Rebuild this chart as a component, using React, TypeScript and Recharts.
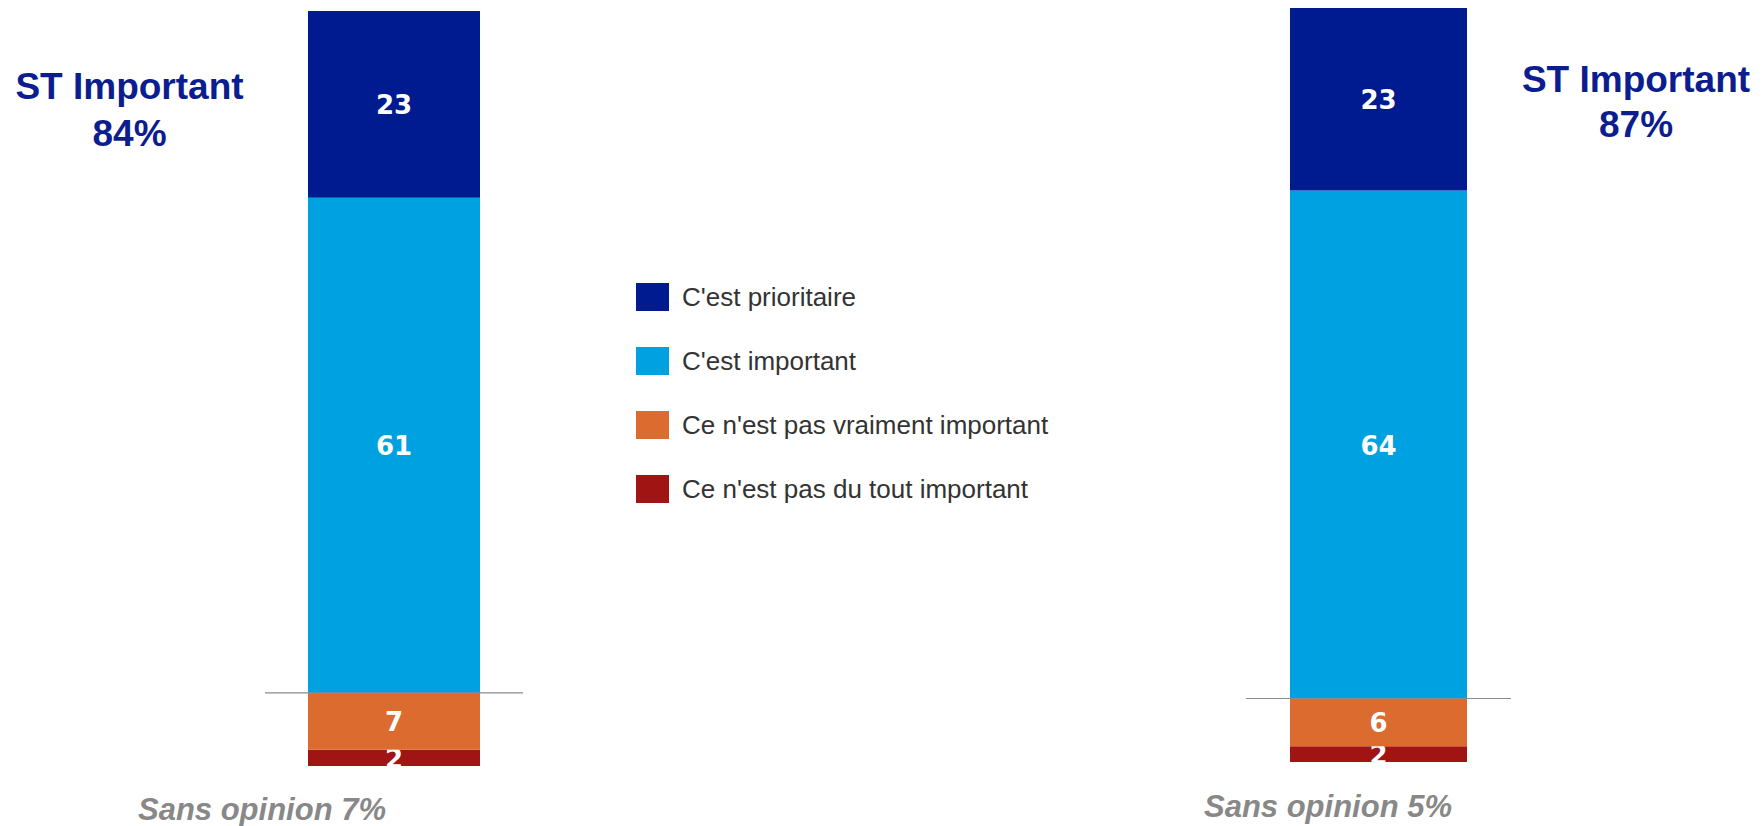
import { BarChart, Bar, XAxis, YAxis, Legend, LabelList, ReferenceLine } from "recharts";

// stacked from the bottom up
const seriesKeys = ["pasDuTout", "pasVraiment", "important", "prioritaire"];
const seriesNames = [
  "Ce n'est pas du tout important",
  "Ce n'est pas vraiment important",
  "C'est important",
  "C'est prioritaire",
];
const seriesColors = ["#A01414", "#DC6B2F", "#00A1E0", "#001A8F"];

const leftValues = [2, 7, 61, 23];
const rightValues = [2, 6, 64, 23];

const stTotals = [84, 87];
const sansOpinion = [7, 5];

const W = 1762;
const H = 826;
const FONT = "'Liberation Sans', Arial, sans-serif";

function toRow(name: string, values: number[]) {
  const row: Record<string, any> = { name };
  seriesKeys.forEach((k, i) => (row[k] = values[i]));
  return row;
}

function makeLabel(prefix: string) {
  return (props: any) => {
    const { x, y, width, height, value, index } = props;
    const id = `clip-${prefix}-${index}-${Math.round(y)}`;
    return (
      <g>
        <clipPath id={id}>
          <rect x={x} y={y} width={width} height={height} />
        </clipPath>
        <text
          x={x + width / 2}
          y={y + height / 2 + 10}
          textAnchor="middle"
          fill="#fff"
          fontFamily="'DejaVu Sans', Verdana, sans-serif"
          fontWeight="bold"
          fontSize={26}
          clipPath={`url(#${id})`}
        >
          {value}
        </text>
      </g>
    );
  };
}

function LegendBox() {
  // top item first, so walk the series backwards
  const order = [3, 2, 1, 0];
  return (
    <div style={{ fontFamily: FONT }}>
      {order.map((i, n) => (
        <div
          key={seriesKeys[i]}
          style={{
            display: "flex",
            alignItems: "center",
            height: 28,
            marginTop: n === 0 ? 0 : 36,
          }}
        >
          <div style={{ width: 33, height: 28, background: seriesColors[i], flexShrink: 0 }} />
          <span
            style={{
              marginLeft: 13,
              fontSize: 26,
              lineHeight: "28px",
              color: "#333",
              whiteSpace: "nowrap",
            }}
          >
            {seriesNames[i]}
          </span>
        </div>
      ))}
    </div>
  );
}

function StackChart({
  id,
  values,
  margin,
  barSize,
  withLegend,
}: {
  id: string;
  values: number[];
  margin: { top: number; right: number; bottom: number; left: number };
  barSize: number;
  withLegend?: boolean;
}) {
  const data = [toRow(id, values)];
  const total = values.reduce((a, b) => a + b, 0);
  const negatives = values[0] + values[1];
  const Label = makeLabel(id);
  return (
    <BarChart width={W} height={H} data={data} margin={margin} barSize={barSize}>
      <XAxis dataKey="name" type="category" hide />
      <YAxis type="number" domain={[0, total]} hide />
      {seriesKeys.map((k, i) => (
        <Bar
          key={k}
          dataKey={k}
          name={seriesNames[i]}
          stackId="a"
          fill={seriesColors[i]}
          isAnimationActive={false}
        >
          <LabelList dataKey={k} content={Label} />
        </Bar>
      ))}
      <ReferenceLine y={negatives} stroke="#8c8c8c" strokeWidth={1.2} />
      {withLegend && (
        <Legend
          layout="vertical"
          align="center"
          verticalAlign="middle"
          content={() => <LegendBox />}
          wrapperStyle={{ left: 636, top: 283, width: 520, height: 220 }}
        />
      )}
    </BarChart>
  );
}

const stStyle = {
  position: "absolute" as const,
  width: 300,
  textAlign: "center" as const,
  fontFamily: FONT,
  fontWeight: "bold" as const,
  fontSize: 37,
  color: "#0B1D8F",
};

const soStyle = {
  position: "absolute" as const,
  width: 340,
  textAlign: "center" as const,
  fontFamily: FONT,
  fontWeight: "bold" as const,
  fontStyle: "italic" as const,
  fontSize: 31,
  lineHeight: "31px",
  color: "#888",
  whiteSpace: "nowrap" as const,
};

export default function App() {
  return (
    <div style={{ position: "absolute", left: 0, top: 0, width: W, height: H, background: "#fff" }}>
      <div style={{ position: "absolute", left: 0, top: 0 }}>
        <StackChart
          id="left"
          values={leftValues}
          margin={{ top: 11, right: W - 523, bottom: H - 766, left: 265 }}
          barSize={172}
          withLegend
        />
      </div>
      <div style={{ position: "absolute", left: 0, top: 0 }}>
        <StackChart
          id="right"
          values={rightValues}
          margin={{ top: 8, right: W - 1511, bottom: H - 762, left: 1246 }}
          barSize={177}
        />
      </div>

      <div style={{ ...stStyle, left: 129.5 - 150, top: 62.5, lineHeight: "47px" }}>
        ST Important
        <br />
        {stTotals[0]}%
      </div>
      <div style={{ ...stStyle, left: 1636 - 150, top: 57, lineHeight: "45px" }}>
        ST Important
        <br />
        {stTotals[1]}%
      </div>

      <div style={{ ...soStyle, left: 262 - 170, top: 794 }}>Sans opinion {sansOpinion[0]}%</div>
      <div style={{ ...soStyle, left: 1328 - 170, top: 791 }}>Sans opinion {sansOpinion[1]}%</div>
    </div>
  );
}
